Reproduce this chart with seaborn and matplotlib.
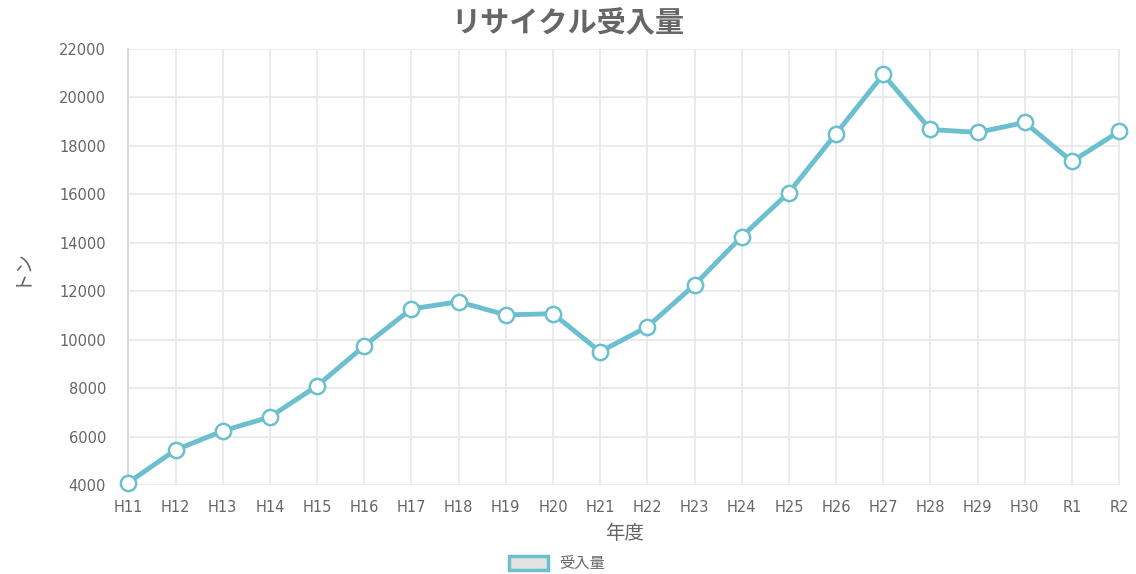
import matplotlib
matplotlib.use("Agg")
import matplotlib.pyplot as plt
from matplotlib.patches import Patch
import seaborn as sns
import pandas as pd

years = ["H11", "H12", "H13", "H14", "H15", "H16", "H17", "H18", "H19", "H20", "H21",
         "H22", "H23", "H24", "H25", "H26", "H27", "H28", "H29", "H30", "R1", "R2"]
amounts = [4100, 5450, 6230, 6810, 8090, 9740, 11270, 11560, 11020, 11070, 9500,
           10530, 12260, 14250, 16070, 18500, 20940, 18670, 18550, 18960, 17350, 18590]
series_name = "受入量"
title = "リサイクル受入量"
xlabel = "年度"
ylabel = "トン"

sns.set_theme(style="white")
plt.rcParams['font.family'] = ['DejaVu Sans', 'Noto Sans CJK JP']

line_color = "#6cbfcf"
text_color = "#666666"
grid_color = "#e8e8e8"

df = pd.DataFrame({"year": years, "amount": amounts})

fig = plt.figure(figsize=(11.36, 5.74), dpi=100)
ax = fig.add_axes([0.113, 0.155, 0.873, 0.76])

sns.lineplot(data=df, x="year", y="amount", ax=ax, color=line_color, linewidth=3.5,
             marker="o", markersize=11, markerfacecolor="white",
             markeredgecolor=line_color, markeredgewidth=1.8, zorder=3, clip_on=False)

ax.set_xlim(0, len(years) - 1 + 0.02)
ax.set_ylim(4000, 22000)
ax.set_yticks(range(4000, 22001, 2000))
ax.set_xticks(range(len(years)))
ax.set_xticklabels(years)

ax.grid(True, color=grid_color, linewidth=1.2)
for s in ["top", "right", "bottom"]:
    ax.spines[s].set_visible(False)
ax.spines["left"].set_color("#d9d9d9")
ax.spines["left"].set_linewidth(1.5)
ax.tick_params(axis="x", colors=grid_color, length=8, width=1.2,
               labelcolor=text_color, labelsize=10.5, pad=3)
ax.tick_params(axis="y", colors=grid_color, length=8, width=1.2,
               labelcolor=text_color, labelsize=10.5, pad=8)

ax.set_xlabel(xlabel, color=text_color, fontsize=14, labelpad=6)
ax.set_ylabel(ylabel, color=text_color, fontsize=14, labelpad=22)

fig.suptitle(title, color=text_color, fontsize=21, fontweight="bold", y=0.982)

handle = Patch(facecolor="#e3e3e3", edgecolor=line_color, linewidth=2.5, label=series_name)
fig.legend(handles=[handle], loc="center", bbox_to_anchor=(0.49, 0.018), frameon=False,
           handlelength=2.6, handleheight=1.0, fontsize=11, labelcolor=text_color,
           handletextpad=0.7)

fig.savefig("out.png", dpi=100)
